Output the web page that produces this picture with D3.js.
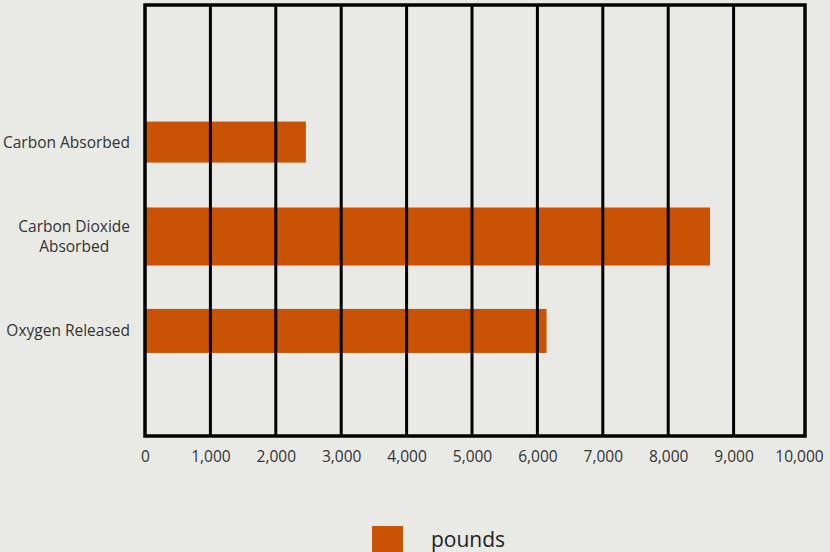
<!DOCTYPE html>
<html>
<head>
<meta charset="utf-8">
<script src="https://cdn.jsdelivr.net/npm/d3@7"></script>
<style>
  html, body { margin: 0; padding: 0; background: #e9eae6; }
  svg { display: block; font-family: "Open Sans", sans-serif; }
</style>
</head>
<body>
<div id="chart"></div>
<script>
// data
var categories = [["Carbon Absorbed"], ["Carbon Dioxide", "Absorbed"], ["Oxygen Released"]];
var pounds = [2460, 8640, 6140];
var tickValues = [0, 1000, 2000, 3000, 4000, 5000, 6000, 7000, 8000, 9000, 10000];
var seriesName = "pounds";

// style
var barThickness = [41, 58, 44];
var barColor = "#c95204";

var width = 830,
    height = 552,
    plot = { left: 145, right: 805, top: 5, bottom: 436 };

var svg = d3.select('#chart')
    .append('svg')
    .attr('width', width)
    .attr('height', height);

svg.append('rect')
    .attr('width', width)
    .attr('height', height)
    .attr('fill', '#e9eae6');

var x = d3.scaleLinear()
    .domain([0, 10000])
    .range([plot.left, 799]);

var y = d3.scaleBand()
    .domain(d3.range(categories.length))
    .range([118, 355])
    .paddingInner(0.49);

// bars first, grid lines drawn over them
svg.selectAll('.bar')
    .data(pounds)
    .enter()
    .append('rect')
    .attr('class', 'bar')
    .attr('x', x(0))
    .attr('y', function(d, i) { return y(i) + y.bandwidth() / 2 - barThickness[i] / 2; })
    .attr('width', function(d) { return x(d) - x(0); })
    .attr('height', function(d, i) { return barThickness[i]; })
    .attr('fill', barColor);

svg.selectAll('.grid')
    .data(tickValues.slice(1, -1))
    .enter()
    .append('line')
    .attr('class', 'grid')
    .attr('x1', function(d) { return x(d); })
    .attr('x2', function(d) { return x(d); })
    .attr('y1', plot.top)
    .attr('y2', plot.bottom)
    .attr('stroke', '#000')
    .attr('stroke-width', 3);

svg.append('rect')
    .attr('x', plot.left)
    .attr('y', plot.top)
    .attr('width', plot.right - plot.left)
    .attr('height', plot.bottom - plot.top)
    .attr('fill', 'none')
    .attr('stroke', '#000')
    .attr('stroke-width', 3.5);

// x axis labels
var xAxis = svg.append('g')
    .attr('transform', 'translate(0,' + plot.bottom + ')')
    .call(d3.axisBottom(x)
        .tickValues(tickValues)
        .tickFormat(d3.format(','))
        .tickSize(0)
        .tickPadding(15));
xAxis.select('.domain').remove();
xAxis.selectAll('text')
    .attr('fill', '#333')
    .style('font-size', '15.5px')
    .style('font-family', '"Open Sans", sans-serif');

// category labels, right edge at 130, multi-line labels centred on their widest line
var labelRight = 130;
categories.forEach(function(lines, i) {
    var cy = y(i) + y.bandwidth() / 2;
    lines.forEach(function(line, j) {
        svg.append('text')
            .attr('class', 'cat-label cat-' + i)
            .attr('y', cy + (j - (lines.length - 1) / 2) * 20)
            .attr('dy', '0.35em')
            .attr('fill', '#333')
            .style('font-size', '15.5px')
            .attr('text-anchor', 'middle')
            .text(line);
    });
    var w = d3.max(svg.selectAll('.cat-' + i).nodes(), function(n) { return n.getComputedTextLength(); });
    svg.selectAll('.cat-' + i).attr('x', labelRight - w / 2);
});

// legend
svg.append('rect')
    .attr('x', 372)
    .attr('y', 526)
    .attr('width', 31)
    .attr('height', 31)
    .attr('fill', barColor);

svg.append('text')
    .attr('x', 431)
    .attr('y', 547)
    .attr('fill', '#222')
    .style('font-size', '21px')
    .text(seriesName);
</script>
</body>
</html>
